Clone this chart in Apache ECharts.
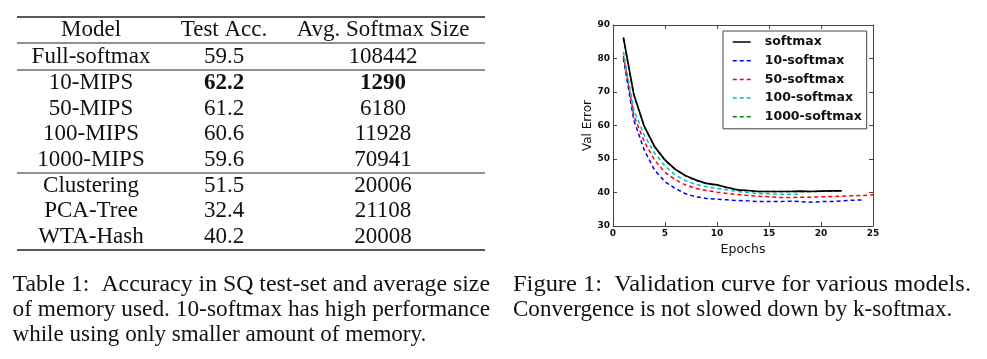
<!DOCTYPE html>
<html><head><meta charset="utf-8">
<script src="https://cdn.jsdelivr.net/npm/echarts@6/dist/echarts.min.js"></script>
<style>html,body{margin:0;padding:0;background:#fff}#c{width:987px;height:359px}</style>
</head><body><div id="c"></div>
<script>
// ---- chart data ----
const seriesNames = ['softmax', '10-softmax', '50-softmax', '100-softmax', '1000-softmax'];
const softmaxErr = [86.3, 69.3, 59.8, 53.7, 49.7, 46.9, 45.0, 43.7, 42.7, 42.3, 41.5, 40.8, 40.6, 40.3, 40.3, 40.3, 40.3, 40.4, 40.3, 40.4, 40.5, 40.5];
const k10Err = [80.0, 61.6, 52.7, 46.7, 43.2, 41.2, 39.6, 38.7, 38.2, 38.0, 37.8, 37.6, 37.5, 37.3, 37.3, 37.3, 37.4, 37.3, 37.1, 37.3, 37.3, 37.5, 37.7, 37.8];
const k50Err = [80.8, 63.0, 55.2, 49.7, 46.0, 43.8, 42.2, 41.2, 40.6, 40.1, 39.7, 39.4, 39.1, 38.9, 38.7, 38.5, 38.5, 38.6, 38.6, 38.7, 38.8, 38.9, 39.0, 39.1, 39.3];
const k100Err = [82.0, 64.6, 57.2, 51.7, 47.9, 45.2, 43.5, 42.4, 41.7, 41.2, 40.8, 40.3, 40.0, 39.7, 39.6, 39.5, 39.5, 39.5];
const k1000Err = [86.0, 69.1, 59.7, 53.6, 49.6, 46.8, 44.9, 43.6, 42.6, 42.2, 41.4, 40.8, 40.5, 40.3, 40.3, 40.3, 40.3, 40.3, 40.3, 40.4, 40.4, 40.5];
const seriesColors = ['#000000', '#0000ff', '#ff0000', '#00bfbf', '#008000'];
const xAxisName = 'Epochs';
const yAxisName = 'Val Error';

// ---- table data ----
const tableHeader = ['Model', 'Test Acc.', 'Avg. Softmax Size'];
const tableModels = ['Full-softmax', '10-MIPS', '50-MIPS', '100-MIPS', '1000-MIPS', 'Clustering', 'PCA-Tree', 'WTA-Hash'];
const tableAcc = ['59.5', '62.2', '61.2', '60.6', '59.6', '51.5', '32.4', '40.2'];
const tableSize = ['108442', '1290', '6180', '11928', '70941', '20006', '21108', '20008'];
const boldRow = 1;

// ---- captions ----
const tableCaption = ['Table 1:  Accuracy in SQ test-set and average size', 'of memory used. 10-softmax has high performance', 'while using only smaller amount of memory.'];
const figureCaption = ['Figure 1:  Validation curve for various models.', 'Convergence is not slowed down by k-softmax.'];

const allSeries = [softmaxErr, k10Err, k50Err, k100Err, k1000Err];
const dashed = [false, true, true, true, true];
const drawOrder = [4, 1, 2, 3, 0];

// ---- layout ----
const serif = '"Liberation Serif", "Times New Roman", serif';
const sans = '"DejaVu Sans", sans-serif';
const tFont = 23;
const measureCtx = document.createElement('canvas').getContext('2d');
function textW(t, font) { measureCtx.font = font; return measureCtx.measureText(t).width; }

const graphics = [];
function hline(y, w) {
  graphics.push({type: 'line', shape: {x1: 17, y1: y, x2: 485, y2: y}, style: {stroke: '#222', lineWidth: w}, silent: true});
}
function txt(t, x, baseline, bold, align, size) {
  graphics.push({type: 'text', x: x, y: baseline - 0.3375 * size + 2, style: {text: t, fill: '#111', font: (bold ? 'bold ' : '') + size + 'px ' + serif, align: align, verticalAlign: 'middle'}, silent: true});
}
hline(17, 1.6); hline(43, 1); hline(70, 1); hline(173, 1); hline(250, 1.6);
const colX = [91, 224, 383];
tableHeader.forEach((h, i) => txt(h, colX[i], 36, false, 'center', tFont));
const rowBase = [62.5, 89, 114.5, 140, 165.5, 191.5, 217, 242.5];
tableModels.forEach((m, i) => {
  txt(m, colX[0], rowBase[i], false, 'center', tFont);
  txt(tableAcc[i], colX[1], rowBase[i], i === boldRow, 'center', tFont);
  txt(tableSize[i], colX[2], rowBase[i], i === boldRow, 'center', tFont);
});

const cFont = 24;
function captionLine(t, x, baseline, justifyTo) {
  const font = cFont + 'px ' + serif;
  let sx = 0.96;
  if (justifyTo) sx = (justifyTo - x) / textW(t, font);
  graphics.push({type: 'text', x: x, y: baseline - 0.3375 * cFont + 2, scaleX: sx, style: {text: t, fill: '#111', font: font, align: 'left', verticalAlign: 'middle'}, silent: true});
}
const capBase = [291, 316, 341];
tableCaption.forEach((t, i) => captionLine(t, 12.5, capBase[i], i < tableCaption.length - 1 ? 490 : null));
figureCaption.forEach((t, i) => captionLine(t, 513, capBase[i], i < figureCaption.length - 1 ? 971 : null));

// ---- chart ----
const chart = echarts.init(document.getElementById('c'), null, {renderer: 'canvas'});
function axisBase() {
  return {
    type: 'value',
    axisLine: {show: true, onZero: false, lineStyle: {color: '#444', width: 1}},
    axisTick: {show: true, inside: true, length: 4, lineStyle: {color: '#444'}},
    splitLine: {show: false},
  };
}
const series = drawOrder.map(idx => ({
  name: seriesNames[idx],
  type: 'line',
  data: allSeries[idx].map((v, i) => [i + 1, v]),
  showSymbol: false,
  symbol: 'none',
  smooth: false,
  z: idx === 0 ? 5 : 3,
  lineStyle: {color: seriesColors[idx], width: idx === 0 ? 1.7 : 1.5, type: dashed[idx] ? [4, 3] : 'solid'},
  itemStyle: {color: seriesColors[idx]},
  emphasis: {disabled: true},
}));

chart.setOption({
  animation: false,
  backgroundColor: '#ffffff',
  grid: {left: 613, top: 25, width: 260, height: 201, show: false},
  xAxis: [
    Object.assign(axisBase(), {
      min: 0, max: 25, interval: 5, position: 'bottom',
      name: xAxisName, nameLocation: 'middle', nameGap: 12,
      nameTextStyle: {fontFamily: sans, fontSize: 12.5, color: '#111', verticalAlign: 'top'},
      axisLabel: {show: true, margin: 3, fontFamily: sans, fontWeight: 'bold', fontSize: 9, color: '#111'},
    }),
    Object.assign(axisBase(), {min: 0, max: 25, interval: 5, position: 'top', axisLabel: {show: false}}),
  ],
  yAxis: [
    Object.assign(axisBase(), {
      min: 30, max: 90, interval: 10, position: 'left',
      name: yAxisName, nameLocation: 'middle', nameGap: 16, nameRotate: 90,
      nameTextStyle: {fontFamily: sans, fontSize: 12, color: '#111'},
      axisLabel: {show: true, margin: 3, fontFamily: sans, fontWeight: 'bold', fontSize: 9, color: '#111'},
    }),
    Object.assign(axisBase(), {min: 30, max: 90, interval: 10, position: 'right', axisLabel: {show: false}}),
  ],
  legend: {
    data: seriesNames,
    orient: 'vertical',
    left: 723, top: 31,
    padding: [4, 5, 5, 9],
    itemWidth: 18, itemHeight: 14, itemGap: 4.7,
    borderColor: '#444', borderWidth: 1, borderRadius: 0,
    backgroundColor: '#ffffff',
    selectedMode: false,
    itemStyle: {opacity: 0},
    lineStyle: {width: 1.5},
    textStyle: {fontFamily: sans, fontWeight: 'bold', fontSize: 12.5, color: '#111', padding: [0, 0, 0, 9], lineHeight: 14},
  },
  series: series,
  graphic: graphics,
});
</script>
</body></html>
